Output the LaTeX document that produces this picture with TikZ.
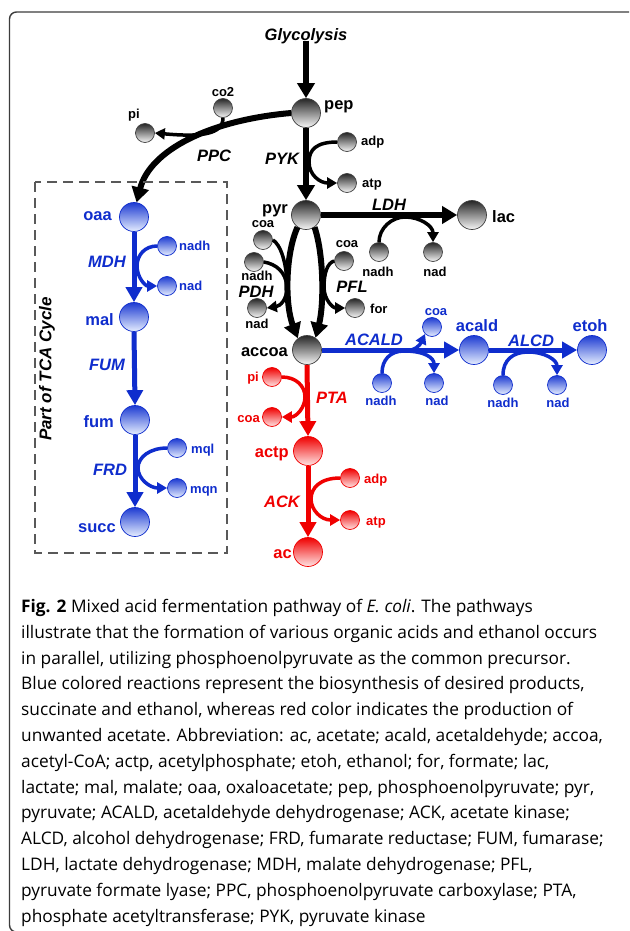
\documentclass[tikz,border=0pt]{standalone}
\usepackage{fontspec}
\setmainfont{Liberation Sans}
\newfontfamily\capfont{Open Sans}
\usetikzlibrary{arrows.meta}
\definecolor{cblue}{RGB}{15,45,205}
\definecolor{bluetop}{RGB}{30,60,210}
\definecolor{bluebot}{RGB}{230,238,255}
\definecolor{cred}{RGB}{240,0,0}
\definecolor{redbot}{RGB}{255,228,228}
\definecolor{frameg}{RGB}{60,60,60}
\begin{document}
\begin{tikzpicture}[x=1pt,y=-1pt,
 big/.style={circle,inner sep=0pt,minimum size=29pt,line width=0.7pt},
 sml/.style={circle,inner sep=0pt,minimum size=19pt,line width=0.7pt},
 gr/.style={draw=black!75,top color=black!85,bottom color=black!3},
 bl/.style={draw=cblue,top color=bluetop,bottom color=bluebot},
 rd/.style={draw=cred,top color=cred,bottom color=redbot},
 lbl/.style={font=\bfseries\fontsize{16.5}{18}\selectfont,inner sep=0pt},
 slbl/.style={font=\bfseries\fontsize{13}{15}\selectfont,inner sep=0pt},
 enz/.style={font=\bfseries\itshape\fontsize{16.5}{18}\selectfont,inner sep=0pt},
 mainarr/.style={line width=6pt,-{Triangle[length=15pt,width=17pt]}},
 colarr/.style={line width=5pt,-{Triangle[length=15pt,width=16pt]}},
 sidearr/.style={line width=3.5pt,-{Triangle[length=10pt,width=11pt]}},
 sideln/.style={line width=3.5pt},
 capline/.style={font=\capfont\fontsize{17.3}{20}\selectfont,inner sep=0pt,anchor=base west},
]
\useasboundingbox (0,0) rectangle (629,931);
\clip (0,0) rectangle (629,931);
\fill[white] (0,0) rectangle (629,931);
% frame
\draw[frameg,line width=1.4pt,rounded corners=7pt] (640,12) -- (9.5,12) -- (9.5,932) -- (640,932);

% ---------- black nodes ----------
\node[enz] (glyc) at (306,41) [anchor=base] {Glycolysis};
\node[big,gr] (pep) at (306,113) {};
\node[big,gr] (pyr) at (306,215) {};
\node[big,gr] (lac) at (472,215) {};
\node[big,gr] (accoa) at (307,350) {};
\node[sml,gr] (co2) at (223,108) {};
\node[sml,gr] (pi) at (145,133) {};
\node[sml,gr] (adp) at (347,142) {};
\node[sml,gr] (atp) at (347,183) {};
\node[sml,gr] (coaA) at (263,240) {};
\node[sml,gr] (nadhA) at (254,262) {};
\node[sml,gr] (nadA) at (257,308) {};
\node[sml,gr] (coaB) at (344,261) {};
\node[sml,gr] (for) at (355,308) {};
\node[sml,gr] (nadhL) at (379,252) {};
\node[sml,gr] (nadL) at (433,252) {};

\node[lbl,anchor=base west] at (324,110) {pep};
\node[lbl,anchor=base west] at (262,213) {pyr};
\node[lbl,anchor=base west] at (492,222) {lac};
\node[lbl,anchor=base east] at (288,356) {accoa};
\node[slbl,anchor=base] at (223,97) {co2};
\node[slbl,anchor=base] at (134,118) {pi};
\node[slbl,anchor=base west] at (361,146) {adp};
\node[slbl,anchor=base west] at (362,187) {atp};
\node[slbl,anchor=base] at (263,227) {coa};
\node[slbl,anchor=base] at (257,280) {nadh};
\node[slbl,anchor=base] at (257,328) {nad};
\node[slbl,anchor=base] at (347,247) {coa};
\node[slbl,anchor=base west] at (370,313) {for};
\node[slbl,anchor=base] at (378,276) {nadh};
\node[slbl,anchor=base] at (435,276) {nad};
\node[enz,anchor=base] at (214,161) {PPC};
\node[enz,anchor=base] at (282,164) {PYK};
\node[enz,anchor=base] at (389,210) {LDH};
\node[enz,anchor=base] at (256,297) {PDH};
\node[enz,anchor=base] at (352,292) {PFL};

% ---------- blue nodes ----------
\begin{scope}[cblue]
\node[big,bl] (oaa) at (134,217) {};
\node[big,bl] (mal) at (134,317) {};
\node[big,bl] (fum) at (135,420) {};
\node[big,bl] (succ) at (135,522) {};
\node[sml,bl] (nadhM) at (167,246) {};
\node[sml,bl] (nadM) at (167,286) {};
\node[sml,bl] (mql) at (177,448) {};
\node[sml,bl] (mqn) at (177,488) {};
\node[big,bl] (acald) at (474,350) {};
\node[big,bl] (etoh) at (592,350) {};
\node[sml,bl] (coaC) at (432,327) {};
\node[sml,bl] (nadhC) at (382,383) {};
\node[sml,bl] (nadC) at (434,383) {};
\node[sml,bl] (nadhD) at (503,385) {};
\node[sml,bl] (nadD) at (557,385) {};

\node[lbl,anchor=base east] at (112,220) {oaa};
\node[lbl,anchor=base east] at (114,325) {mal};
\node[lbl,anchor=base east] at (114,427) {fum};
\node[lbl,anchor=base east] at (116,532) {succ};
\node[slbl,anchor=base west] at (179,250) {nadh};
\node[slbl,anchor=base west] at (179,290) {nad};
\node[slbl,anchor=base west] at (191,453) {mql};
\node[slbl,anchor=base west] at (190,493) {mqn};
\node[enz,anchor=base] at (107,267) {MDH};
\node[enz,anchor=base] at (107,370) {FUM};
\node[enz,anchor=base] at (110,475) {FRD};
\node[lbl,anchor=base] at (477,331) {acald};
\node[lbl,anchor=base] at (590,331) {etoh};
\node[slbl,anchor=base] at (436,315) {coa};
\node[slbl,anchor=base] at (381,405) {nadh};
\node[slbl,anchor=base] at (437,405) {nad};
\node[slbl,anchor=base] at (503,407) {nadh};
\node[slbl,anchor=base] at (558,407) {nad};
\node[enz,anchor=base] at (374,345) {ACALD};
\node[enz,anchor=base] at (531,346) {ALCD};
\end{scope}

% ---------- black connectors ----------
\draw[mainarr] ([yshift=4pt]glyc.south) -- (pep.north);
\draw[mainarr] (pep.south) -- (pyr.north);
\draw[mainarr] (pyr.east) -- (lac.west);
\draw[mainarr] (pep.west) .. controls (210,120) and (150,150) .. (oaa.80);
\draw[sidearr] (co2.south) .. controls (223,135) and (200,137) .. (pi.east);
\draw[sidearr] (adp.west) .. controls (316,142) and (309,150) .. (309,162) .. controls (309,175) and (320,183) .. (atp.west);
\draw[sidearr] (nadhL.north) .. controls (379,228) and (392,217) .. (405,217) .. controls (420,217) and (433,226) .. (nadL.north);
\draw[mainarr] (pyr.235) .. controls (285,255) and (285,305) .. (accoa.128);
\draw[mainarr] (pyr.305) .. controls (324,255) and (324,305) .. (accoa.55);
\coordinate (pdhm) at (287,287);
\draw[sideln] (coaA.east) .. controls (280,244) and (287,262) .. (pdhm);
\draw[sideln] (nadhA.east) .. controls (276,264) and (286,272) .. (pdhm);
\draw[sidearr] (pdhm) .. controls (287,300) and (280,306) .. (nadA.east);
\coordinate (pflm) at (324,287);
\draw[sideln] (coaB.west) .. controls (327,263) and (324,274) .. (pflm);
\draw[sidearr] (pflm) .. controls (324,300) and (333,308) .. (for.west);

% ---------- blue connectors ----------
\begin{scope}[cblue]
\draw[colarr] (oaa.south) -- (mal.north);
\draw[colarr] (mal.south) -- (fum.north);
\draw[colarr] (fum.south) -- (succ.north);
\draw[sidearr] (nadhM.west) .. controls (145,246) and (137,255) .. (137,266) .. controls (137,277) and (145,286) .. (nadM.west);
\draw[sidearr] (mql.west) .. controls (150,448) and (138,457) .. (138,468) .. controls (138,479) and (150,488) .. (mqn.west);
\draw[colarr] (accoa.east) -- (acald.west);
\draw[colarr] (acald.east) -- (etoh.west);
\coordinate (acm) at (404,351);
\draw[sideln] (nadhC.north) .. controls (382,360) and (390,351) .. (acm);
\draw[sidearr] (acm) .. controls (415,351) and (420,345) .. (coaC.225);
\draw[sidearr] (acm) .. controls (425,351) and (434,358) .. (nadC.north);
\draw[sidearr] (nadhD.north) .. controls (503,360) and (513,352) .. (528,352) .. controls (545,352) and (557,360) .. (nadD.north);
\end{scope}

% ---------- red ----------
\begin{scope}[cred]
\node[big,rd] (actp) at (308,451) {};
\node[big,rd] (ac) at (308,552) {};
\node[sml,rd] (piR) at (272,377) {};
\node[sml,rd] (coaR) at (272,417) {};
\node[sml,rd] (adpR) at (350,478) {};
\node[sml,rd] (atpR) at (350,520) {};
\node[lbl,anchor=base east] at (289,457) {actp};
\node[lbl,anchor=base east] at (292,558) {ac};
\node[slbl,anchor=base east] at (259,381) {pi};
\node[slbl,anchor=base east] at (260,422) {coa};
\node[slbl,anchor=base west] at (364,483) {adp};
\node[slbl,anchor=base west] at (366,525) {atp};
\node[enz,anchor=base] at (332,403) {PTA};
\node[enz,anchor=base] at (282,507) {ACK};
\draw[colarr] (accoa.south) -- (actp.north);
\draw[colarr] (actp.south) -- (ac.north);
\draw[sidearr] (piR.east) .. controls (296,377) and (305,386) .. (305,397) .. controls (305,408) and (296,417) .. (coaR.east);
\draw[sidearr] (adpR.west) .. controls (320,478) and (311,488) .. (311,499) .. controls (311,510) and (321,520) .. (atpR.west);
\end{scope}

% TCA box
\draw[black!65,line width=1.3pt,dash pattern=on 10pt off 6pt] (35,182) rectangle (227,553);
\node[enz,rotate=90,font=\bfseries\itshape\fontsize{17}{19}\selectfont] at (47,369) {Part of TCA Cycle};

% caption
\foreach \t [count=\i] in {
 {\textbf{Fig. 2} Mixed acid fermentation pathway of \textit{E. coli}. The pathways},
 {illustrate that the formation of various organic acids and ethanol occurs},
 {in parallel, utilizing phosphoenolpyruvate as the common precursor.},
 {Blue colored reactions represent the biosynthesis of desired products,},
 {succinate and ethanol, whereas red color indicates the production of},
 {unwanted acetate. Abbreviation: ac, acetate; acald, acetaldehyde; accoa,},
 {acetyl-CoA; actp, acetylphosphate; etoh, ethanol; for, formate; lac,},
 {lactate; mal, malate; oaa, oxaloacetate; pep, phosphoenolpyruvate; pyr,},
 {pyruvate; ACALD, acetaldehyde dehydrogenase; ACK, acetate kinase;},
 {ALCD, alcohol dehydrogenase; FRD, fumarate reductase; FUM, fumarase;},
 {LDH, lactate dehydrogenase; MDH, malate dehydrogenase; PFL,},
 {pyruvate formate lyase; PPC, phosphoenolpyruvate carboxylase; PTA,},
 {phosphate acetyltransferase; PYK, pyruvate kinase}}
 \node[capline] (cap\i) at (21,{612.5+25.8*(\i-1)}) {\t};
\end{tikzpicture}
\end{document}
